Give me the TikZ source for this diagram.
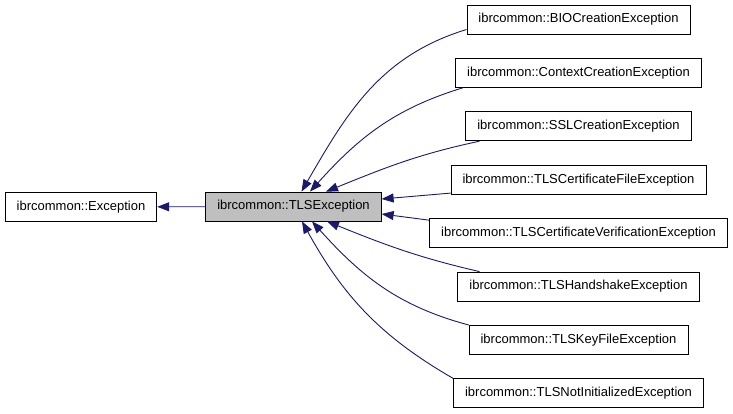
\documentclass[tikz,border=0pt]{standalone}
\usepackage{fontspec}
\setmainfont{Liberation Sans}
\usepackage{tikz}
\usetikzlibrary{arrows.meta,positioning}
\definecolor{edgeblue}{HTML}{191970}
\definecolor{basegray}{HTML}{BFBFBF}

\begin{document}
\begin{tikzpicture}[
 x=1pt,y=1pt,
 node distance=23.6pt,
 cls/.style={draw,line width=0.8pt,minimum height=29pt,inner xsep=11.5pt,font=\fontsize{13}{15}\selectfont,fill=white},
 inherit/.style={-{Triangle[length=12pt,width=9pt]},draw=edgeblue,line width=0.9pt}
]
\useasboundingbox (0,0) rectangle (733,413);
\node[cls] (exc) at (81,206) {ibrcommon::Exception};
\node[cls,fill=basegray] (tls) at (293.5,206.5) {ibrcommon::TLSException};
\node[cls] (bio) at (578.5,393.5) {ibrcommon::BIOCreationException};
\node[cls,below=of bio] (ctx) {ibrcommon::ContextCreationException};
\node[cls,below=of ctx] (ssl) {ibrcommon::SSLCreationException};
\node[cls,below=of ssl] (certfile) {ibrcommon::TLSCertificateFileException};
\node[cls,below=of certfile] (certverif) {ibrcommon::TLSCertificateVerificationException};
\node[cls,below=of certverif] (handshake) {ibrcommon::TLSHandshakeException};
\node[cls,below=of handshake] (keyfile) {ibrcommon::TLSKeyFileException};
\node[cls,below=of keyfile] (notinit) {ibrcommon::TLSNotInitializedException};
\draw[inherit] (tls) -- (exc);
\draw[inherit] ([yshift=-10pt]bio.west) to[out=197,in=60] ([xshift=8pt]tls.north);
\draw[inherit] ([xshift=7.5pt]ctx.south west) to[out=197,in=48] ([xshift=16.5pt]tls.north);
\draw[inherit] ([xshift=14pt]ssl.south west) to[out=192,in=22] ([xshift=32.5pt]tls.north);
\draw[inherit] ([yshift=1.5pt]certfile.south west) -- ([yshift=7.5pt]tls.east);
\draw[inherit] ([yshift=-2pt]certverif.north west) -- ([yshift=-7.5pt]tls.east);
\draw[inherit] ([xshift=22pt]handshake.north west) to[out=167,in=-22] ([xshift=33.5pt]tls.south);
\draw[inherit] (keyfile.north west) to[out=165,in=-48] ([xshift=18.5pt]tls.south);
\draw[inherit] (notinit.north west) to[out=150,in=-61] ([xshift=8.5pt]tls.south);
\end{tikzpicture}
\end{document}
